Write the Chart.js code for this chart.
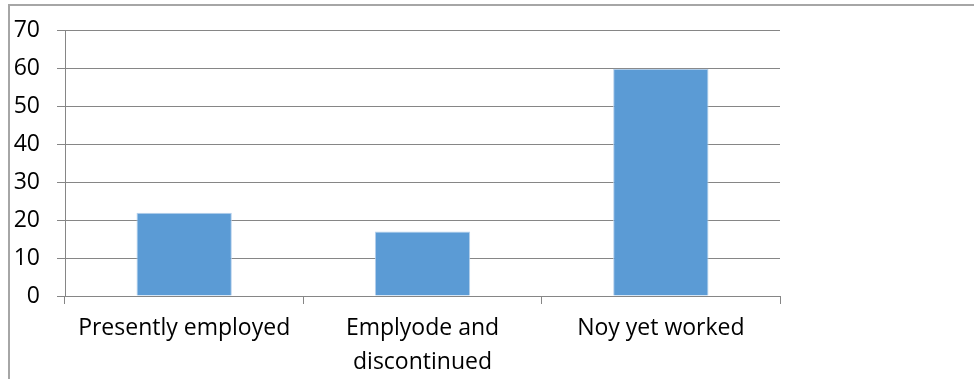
<!DOCTYPE html>
<html>
<head>
<meta charset="utf-8">
<script src="https://cdn.jsdelivr.net/npm/chart.js@4/dist/chart.umd.min.js"></script>
<style>
  html, body { margin: 0; padding: 0; background: #fff; }
  .wrap { position: relative; width: 974px; height: 379px; }
  .frame { position: absolute; left: 8px; top: 4px; right: 0; bottom: 0;
           border-left: 2px solid #a6a6a6; border-top: 2px solid #a6a6a6; pointer-events: none; }
  canvas { position: absolute; left: 0; top: 0; }
</style>
</head>
<body>
<div class="wrap">
  <canvas id="chart" width="974" height="379"></canvas>
  <div class="frame"></div>
</div>
<script>
// chart data
const categories = [
  'Presently employed',
  ['Emplyode and', 'discontinued'],
  'Noy yet worked'
];
const values = [22, 17, 60];
const yTicks = { min: 0, max: 70, step: 10 };

const gridColor = '#868686';
const barColor = '#5b9bd5';
const fontFamily = '"Open Sans", sans-serif';

const ctx = document.getElementById('chart').getContext('2d');
new Chart(ctx, {
  type: 'bar',
  data: {
    labels: categories,
    datasets: [{
      data: values,
      backgroundColor: barColor,
      borderColor: '#b7d1ec',
      borderWidth: 1,
      barPercentage: 0.4,
      categoryPercentage: 1
    }]
  },
  options: {
    responsive: false,
    animation: false,
    layout: { padding: { left: 0, top: 30, right: 194, bottom: 0 } },
    plugins: { legend: { display: false }, tooltip: { enabled: false } },
    scales: {
      x: {
        afterFit: (scale) => { scale.height = 379 - 296; },
        grid: {
          offset: true,
          drawOnChartArea: false,
          drawTicks: true,
          tickLength: 8,
          color: gridColor,
          lineWidth: 1
        },
        border: { color: gridColor, width: 1 },
        ticks: {
          color: '#000',
          padding: 8,
          maxRotation: 0,
          font: { family: fontFamily, size: 23, lineHeight: 1.45 }
        }
      },
      y: {
        min: yTicks.min,
        max: yTicks.max,
        afterFit: (scale) => { scale.width = 65; },
        grid: {
          color: gridColor,
          lineWidth: 1,
          drawTicks: true,
          tickLength: 8
        },
        border: { color: gridColor, width: 1 },
        ticks: {
          stepSize: yTicks.step,
          color: '#000',
          padding: 17,
          font: { family: fontFamily, size: 23 }
        }
      }
    }
  }
});
</script>
</body>
</html>
